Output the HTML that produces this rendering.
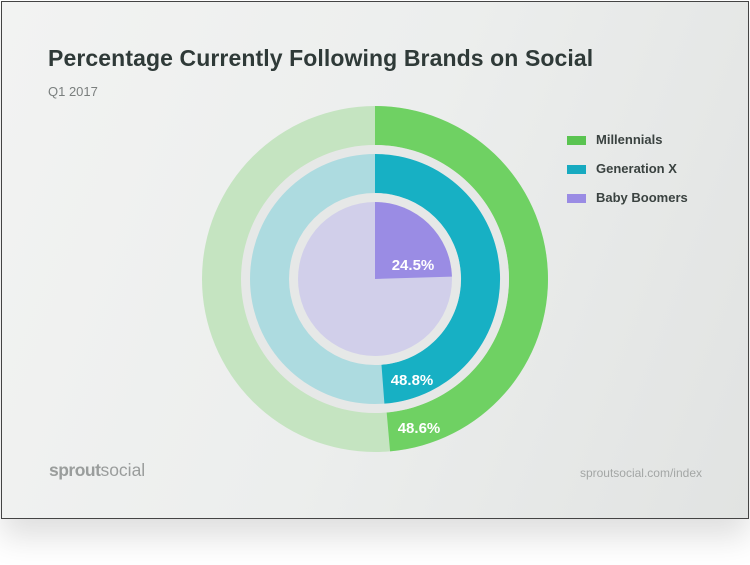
<!DOCTYPE html>
<html><head><meta charset="utf-8"><style>
body{margin:0;width:750px;height:565px;background:#fff;position:relative;overflow:hidden;font-family:"Liberation Sans",sans-serif}
.card{position:absolute;left:1px;top:1px;width:746px;height:516px;border:1px solid #444;background:linear-gradient(110deg,#f2f3f2 0%,#eceeed 50%,#e1e3e2 100%);box-shadow:0 18px 30px rgba(0,0,0,0.13)}
.t{position:absolute;left:48px;top:45px;font-size:23px;font-weight:bold;color:#2f3a38;letter-spacing:0.1px}
.s{position:absolute;left:48px;top:84px;font-size:13px;color:#7a7f7e}
.lg{position:absolute;left:567px;font-size:13px;font-weight:bold;color:#3a4240}
.lg i{position:absolute;left:0;top:4px;width:19px;height:9px}
.lg span{position:absolute;left:29px;top:0;white-space:nowrap}
.f1{position:absolute;left:49px;top:460px;font-size:17.5px;color:#9a9d9c}
.f2{position:absolute;right:48px;top:466px;font-size:12px;color:#a3a6a5}
</style></head><body>
<div class="card"></div>
<div class="t">Percentage Currently Following Brands on Social</div>
<div class="s">Q1 2017</div>
<svg style="position:absolute;left:0;top:0" width="750" height="565">
<circle cx="375" cy="279" r="173" fill="#c5e4c1"/>
<path d="M375 106 A173 173 0 0 1 390.08 451.34 L386.68 412.49 A134 134 0 0 0 375 145 Z" fill="#6fd163"/>
<circle cx="375" cy="279" r="134" fill="#e6e8e7"/>
<circle cx="375" cy="279" r="125" fill="#addbe0"/>
<path d="M375 154 A125 125 0 0 1 384.41 403.65 L381.48 364.76 A86 86 0 0 0 375 193 Z" fill="#17b0c4"/>
<circle cx="375" cy="279" r="86" fill="#e6e8e7"/>
<circle cx="375" cy="279" r="77" fill="#d1cfea"/>
<path d="M375 279 L375 202 A77 77 0 0 1 451.96 276.58 Z" fill="#9a8ce4"/>
<g font-family="Liberation Sans,sans-serif" font-weight="bold" font-size="15" fill="#fff" text-anchor="middle">
<text x="413" y="270">24.5%</text>
<text x="412" y="385">48.8%</text>
<text x="419" y="433">48.6%</text>
</g>
</svg>
<div class="lg" style="top:132px"><i style="background:#5ac451"></i><span>Millennials</span></div>
<div class="lg" style="top:161px"><i style="background:#17aac0"></i><span>Generation X</span></div>
<div class="lg" style="top:190px"><i style="background:#9a8ce4"></i><span>Baby Boomers</span></div>
<div class="f1"><b style="letter-spacing:-0.5px">sprout</b>social</div>
<div class="f2">sproutsocial.com/index</div>
</body></html>
